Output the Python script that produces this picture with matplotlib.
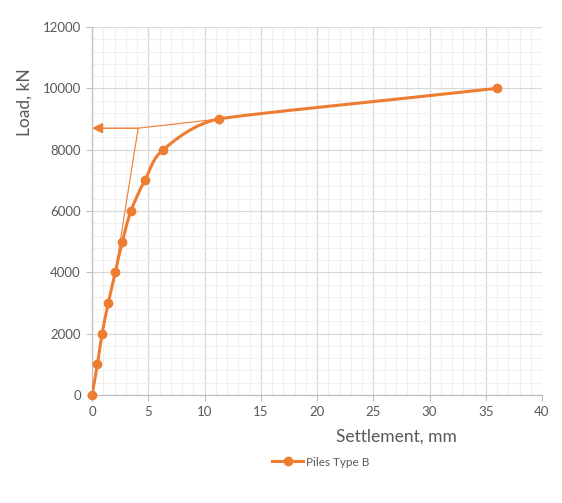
import numpy as np
import matplotlib
matplotlib.use('Agg')
import matplotlib.pyplot as plt
from matplotlib.path import Path
from matplotlib.patches import PathPatch
from matplotlib.lines import Line2D

plt.rcParams['font.family'] = ['Lato', 'DejaVu Sans']

# measured load-settlement points
settlement = [0.0, 0.48, 0.9, 1.45, 2.07, 2.7, 3.47, 4.7, 6.33, 11.28, 36.0]
load = [0, 1000, 2000, 3000, 4000, 5000, 6000, 7000, 8000, 9000, 10000]

# tangent construction (failure load estimate)
tangent1_x = [2.07, 4.1]
tangent1_y = [4000, 8700]
tangent2_x = [4.1, 11.28]
tangent2_y = [8700, 9000]
failure_load = 8700

ORANGE = '#ED7D31'
GREY_TXT = '#595959'


def smooth_path(xs, ys, ax, k=0.4):
    """Smoothed line (cubic bezier) built in display space; handle length
    limited by the shorter neighbouring segment, like spreadsheet smoothing."""
    pts = ax.transData.transform(np.column_stack([xs, ys]))
    n = len(pts)
    segs = [np.hypot(*(pts[i + 1] - pts[i])) for i in range(n - 1)]

    def direction(i):
        d = pts[min(i + 1, n - 1)] - pts[max(i - 1, 0)]
        return d / np.hypot(*d)

    verts = [pts[0]]
    codes = [Path.MOVETO]
    for i in range(n - 1):
        p1, p2 = pts[i], pts[i + 1]
        l1 = min(segs[i], segs[i - 1] if i > 0 else segs[i])
        l2 = min(segs[i], segs[i + 1] if i + 1 < n - 1 else segs[i])
        c1 = p1 + direction(i) * l1 * k
        c2 = p2 - direction(i + 1) * l2 * k
        verts += [c1, c2, p2]
        codes += [Path.CURVE4] * 3
    verts = ax.transData.inverted().transform(np.array(verts))
    return Path(verts, codes)


fig = plt.figure(figsize=(5.62, 5.03), dpi=100)
ax = fig.add_axes([92/562, 1 - 395/503, 450/562, 368/503])

ax.set_xlim(0, 40)
ax.set_ylim(0, 12000)
ax.set_xticks(np.arange(0, 41, 5))
ax.set_yticks(np.arange(0, 12001, 2000))
ax.set_xticks(np.arange(0, 41, 1), minor=True)
ax.set_yticks(np.arange(0, 12001, 400), minor=True)
ax.grid(which='minor', color='#f0f0f0', lw=0.8, zorder=0)
ax.grid(which='major', color='#d9d9d9', lw=0.9, zorder=0)
ax.set_axisbelow(True)
for s in ['top', 'right']:
    ax.spines[s].set_visible(False)
for s in ['left', 'bottom']:
    ax.spines[s].set_color('#bfbfbf')
    ax.spines[s].set_linewidth(0.9)
ax.tick_params(which='major', length=4, color='#bfbfbf', labelcolor=GREY_TXT,
               labelsize=9.5, pad=4)
ax.tick_params(which='minor', length=0)

# tangent lines and arrow
ax.plot(tangent1_x, tangent1_y, color=ORANGE, lw=0.8, zorder=2)
ax.plot(tangent2_x, tangent2_y, color=ORANGE, lw=0.8, zorder=2)
ax.annotate('', xy=(0, failure_load), xytext=(tangent1_x[1], failure_load),
            arrowprops=dict(arrowstyle='-|>', color=ORANGE, lw=1.0,
                            mutation_scale=16, shrinkA=0, shrinkB=0),
            zorder=2)

# smoothed curve with markers
fig.canvas.draw()
patch = PathPatch(smooth_path(settlement, load, ax), facecolor='none',
                  edgecolor=ORANGE, lw=2.2, capstyle='round', zorder=3)
ax.add_patch(patch)
ax.plot(settlement, load, 'o', color=ORANGE, ms=6, zorder=4, clip_on=False)

fig.text(396/562, 1 - 437/503, 'Settlement, mm', ha='center', va='center',
         fontsize=12.5, color=GREY_TXT)
fig.text(25/562, 1 - 102/503, 'Load, kN', ha='center', va='center',
         rotation=90, fontsize=12.5, color=GREY_TXT)

handle = Line2D([], [], color=ORANGE, lw=2.2, marker='o', ms=6)
fig.legend([handle], ['Piles Type B'], loc='center',
           bbox_to_anchor=(321/562, 1 - 462/503), frameon=False,
           fontsize=8.5, labelcolor=GREY_TXT, handlelength=2.6,
           handletextpad=0.3)

fig.savefig('out.png', dpi=100)
